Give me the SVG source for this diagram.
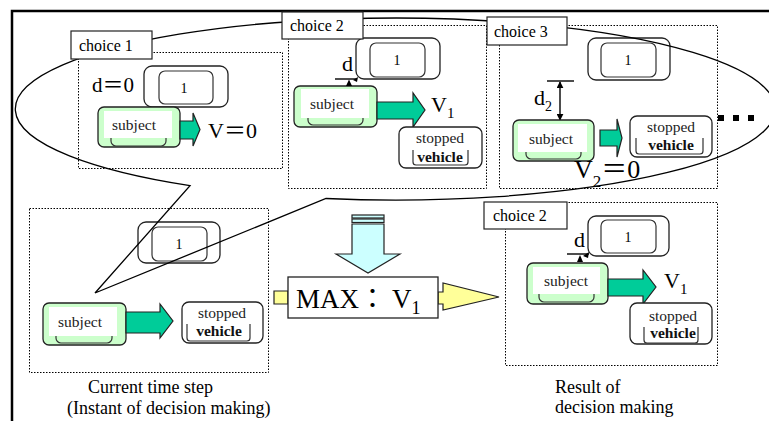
<svg xmlns="http://www.w3.org/2000/svg" width="769" height="421" viewBox="0 0 769 421">
<style>
.frame{fill:none;stroke:#000;stroke-width:2.5}
.dot{fill:none;stroke:#000;stroke-width:1;stroke-dasharray:1.5 1.5}
.callout{fill:none;stroke:#000;stroke-width:1.3}
.lbl{fill:#fff;stroke:#222;stroke-width:1.2}
.t{font-family:"Liberation Serif","Noto Sans CJK JP",serif;fill:#000}
.lt{font-size:16px}
.so{fill:#ccffcc;stroke:#222;stroke-width:1.3}
.si{fill:none;stroke:#333;stroke-width:1.2}
.sw{fill:#fff}
.o{fill:#fff;stroke:#222;stroke-width:1.3}
.sub{font-size:15.5px;fill:#222;text-anchor:middle}
.veh{font-size:15.5px;font-weight:bold;fill:#111;text-anchor:middle}
.num{font-size:14px;text-anchor:middle}
.ga{fill:#00cc99;stroke:#222;stroke-width:1.2}
.ya{fill:#ffff99;stroke:#222;stroke-width:1.2}
.ba{fill:#ccffff;stroke:#222;stroke-width:1.2}
.dl{stroke:#000;stroke-width:1.4;fill:none}
.blk{fill:#000}
.cap{font-size:18px}
</style>
<defs>
<marker id="ah" viewBox="0 0 10 10" refX="9" refY="5" markerWidth="7" markerHeight="7" orient="auto-start-reverse" markerUnits="userSpaceOnUse">
<path d="M0,0 L10,5 L0,10 Z" fill="#000"/>
</marker>
</defs>

<!-- frame -->
<path class="frame" d="M12,421 V11 H769"/>

<!-- dotted scene boxes -->
<g id="boxes">
<rect class="dot" x="78.5" y="52.5" width="204" height="116"/>
<rect class="dot" x="288.5" y="25.5" width="198" height="163"/>
<rect class="dot" x="499.5" y="25.5" width="218" height="163"/>
<rect class="dot" x="29.5" y="208.5" width="239" height="164"/>
<rect class="dot" x="505.5" y="202.5" width="212" height="163"/>
</g>

<!-- choice 1 contents -->
<g id="c1-d"><text class="t" x="92" y="92" font-size="21">d＝0</text></g>
<g id="c1-obstacle" transform="translate(144,66)">
<rect class="o" x="0" y="0" width="84" height="41" rx="8"/>
<rect class="si" x="15" y="5" width="54" height="33" rx="6"/>
<text class="t num" x="40" y="27">1</text>
</g>
<g id="c1-subject" transform="translate(98,107)">
<rect class="so" x="0" y="0" width="82" height="40" rx="6"/>
<rect class="si" x="13" y="6" width="55" height="33" rx="5"/>
<rect class="sw" x="6" y="4" width="68" height="27"/>
<text class="t sub" x="36" y="23">subject</text>
</g>
<g id="c1-arrow"><path class="ga" d="M180,121 H193 V113 L200,129.5 L193,146 V139 H180 Z"/></g>
<g id="c1-v"><text class="t" x="208" y="138" font-size="22">V＝0</text></g>

<!-- choice 2 contents -->
<g id="c2-obstacle" transform="translate(356,38)">
<rect class="o" x="0" y="0" width="84" height="41" rx="8"/>
<rect class="si" x="14" y="5" width="55" height="34" rx="6"/>
<text class="t num" x="41" y="27">1</text>
</g>
<g id="c2-subject" transform="translate(294,86)">
<rect class="so" x="0" y="0" width="83" height="41" rx="6"/>
<rect class="si" x="14" y="6" width="55" height="33" rx="5"/>
<rect class="sw" x="7" y="3" width="68" height="29"/>
<text class="t sub" x="38" y="23">subject</text>
</g>
<g id="c2-d">
<text class="t" x="342" y="71" font-size="22">d</text>
<line class="dl" x1="335" y1="79" x2="357" y2="79"/>
<path class="blk" d="M346,86 L349,79.5 L352,86 Z"/>
<path class="blk" d="M353,80 L358,77 L357,82 Z"/>
</g>
<g id="c2-arrow"><path class="ga" d="M377,102 H413 V93 L425,110 L413,127 V119 H377 Z"/></g>
<g id="c2-v"><text class="t" x="431" y="112" font-size="22">V<tspan font-size="15" dy="6">1</tspan></text></g>
<g id="c2-stopped" transform="translate(399,127)">
<rect class="o" x="0" y="0" width="83" height="41" rx="7"/>
<text class="t sub" x="41" y="16">stopped</text>
<path class="si" d="M14,23 V35 Q14,38 17,38 H66 Q69,38 69,35 V23"/>
<text class="t veh" x="41" y="35">vehicle</text>
</g>

<!-- choice 3 contents -->
<g id="c3-obstacle" transform="translate(588,38)">
<rect class="o" x="0" y="0" width="82" height="42" rx="8"/>
<rect class="si" x="13" y="5" width="55" height="34" rx="6"/>
<text class="t num" x="40" y="27">1</text>
</g>
<g id="c3-d">
<line class="dl" x1="547" y1="81" x2="574" y2="81"/>
<line class="dl" x1="560" y1="82" x2="560" y2="120" marker-start="url(#ah)" marker-end="url(#ah)"/>
<text class="t" x="534" y="105" font-size="22">d<tspan font-size="14" dy="6">2</tspan></text>
</g>
<g id="c3-subject" transform="translate(513,120)">
<rect class="so" x="0" y="0" width="81" height="41" rx="6"/>
<rect class="si" x="13" y="6" width="55" height="33" rx="5"/>
<rect class="sw" x="5" y="4" width="69" height="28"/>
<text class="t sub" x="38" y="24">subject</text>
</g>
<g id="c3-arrow"><path class="ga" d="M600,130 H617 V119 L622,138 L617,157 V146 H600 Z"/></g>
<g id="c3-stopped" transform="translate(630,116)">
<rect class="o" x="0" y="0" width="82" height="41" rx="7"/>
<text class="t sub" x="41" y="16">stopped</text>
<path class="si" d="M6,22 V35 Q6,38 9,38 H70 Q73,38 73,35 V22"/>
<text class="t veh" x="41" y="34">vehicle</text>
</g>
<g id="c3-v"><text class="t" x="574" y="178" font-size="26">V<tspan font-size="17" dy="9">2</tspan><tspan dy="-9">＝0</tspan></text></g>
<g id="c3-more">
<rect class="blk" x="718" y="115" width="6" height="6"/>
<rect class="blk" x="733" y="115" width="6" height="6"/>
<rect class="blk" x="748" y="115" width="6" height="6"/>
</g>

<!-- current time step contents -->
<g id="cur-obstacle" transform="translate(138,222)">
<rect class="o" x="0" y="0" width="82" height="41" rx="8"/>
<rect class="si" x="14" y="5" width="55" height="34" rx="6"/>
<text class="t num" x="41" y="27">1</text>
</g>
<g id="cur-subject" transform="translate(43,303)">
<rect class="so" x="0" y="0" width="83" height="42" rx="6"/>
<rect class="si" x="13" y="6" width="56" height="34" rx="5"/>
<rect class="sw" x="6" y="4" width="68" height="29"/>
<text class="t sub" x="37" y="24">subject</text>
</g>
<g id="cur-arrow"><path class="ga" d="M126,312 H160 V304 L173,321 L160,338 V333 H126 Z"/></g>
<g id="cur-stopped" transform="translate(182,302)">
<rect class="o" x="0" y="0" width="81" height="41" rx="7"/>
<text class="t sub" x="40" y="16">stopped</text>
<path class="si" d="M5,22 V36 Q5,39 8,39 H65 Q68,39 68,36 V22"/>
<text class="t veh" x="37" y="34">vehicle</text>
</g>

<!-- result contents -->
<g id="res-obstacle" transform="translate(588,216)">
<rect class="o" x="0" y="0" width="81" height="40" rx="8"/>
<rect class="si" x="13" y="4" width="55" height="33" rx="6"/>
<text class="t num" x="40" y="26">1</text>
</g>
<g id="res-subject" transform="translate(527,263)">
<rect class="so" x="0" y="0" width="81" height="41" rx="6"/>
<rect class="si" x="12" y="6" width="55" height="33" rx="5"/>
<rect class="sw" x="6" y="4" width="67" height="27"/>
<text class="t sub" x="39" y="23">subject</text>
</g>
<g id="res-d">
<text class="t" x="574" y="247" font-size="22">d</text>
<line class="dl" x1="567" y1="254" x2="589" y2="254"/>
<path class="blk" d="M577,262 L580,255 L583,262 Z"/>
<path class="blk" d="M583,256 L589,252 L588,258 Z"/>
</g>
<g id="res-arrow"><path class="ga" d="M608,279 H643 V270 L656,287 L643,304 V296 H608 Z"/></g>
<g id="res-v"><text class="t" x="664" y="288" font-size="22">V<tspan font-size="15" dy="6">1</tspan></text></g>
<g id="res-stopped" transform="translate(630,303)">
<rect class="o" x="0" y="0" width="82" height="41" rx="7"/>
<text class="t sub" x="43" y="18">stopped</text>
<path class="si" d="M14,24 V37 Q14,40 17,40 H65 Q68,40 68,37 V24"/>
<text class="t veh" x="43" y="35">vehicle</text>
</g>

<!-- MAX decision -->
<g id="max-node">
<path class="ya" d="M274,291 H288 V304 H274 Z"/>
<path class="ya" d="M438,292 H443 V283 L499,297 L443,310 V304 H438 Z"/>
<rect x="288" y="277" width="150" height="41" fill="#fff" stroke="#222" stroke-width="1.3"/>
<text class="t" x="296" y="308" font-size="27">MAX：<tspan x="392">V</tspan><tspan font-size="18" dy="6">1</tspan></text>
</g>
<g id="down-arrow">
<rect class="ba" x="352" y="215" width="32" height="3"/>
<rect class="ba" x="352" y="219" width="32" height="3.5"/>
<path class="ba" d="M352,224 H384 V254 H400 L368,273 L336,254 H352 Z"/>
</g>

<!-- callout bubble (connector) -->
<g id="connectors">
<path class="callout" d="M190,185.6 A380,91 0 1,1 326,198.5 L95,293 Z"/>
</g>

<!-- choice labels -->
<g id="lbl-choice1"><rect class="lbl" x="71" y="31" width="81" height="28"/><text class="t lt" x="79" y="51">choice 1</text></g>
<g id="lbl-choice2"><rect class="lbl" x="282" y="12" width="81" height="27"/><text class="t lt" x="290" y="31">choice 2</text></g>
<g id="lbl-choice3"><rect class="lbl" x="487" y="17" width="80" height="28"/><text class="t lt" x="494" y="37">choice 3</text></g>
<g id="lbl-result"><rect class="lbl" x="484" y="202" width="83" height="27"/><text class="t lt" x="493" y="221">choice 2</text></g>

<!-- captions -->
<g id="cap-current">
<text class="t cap" x="88" y="393">Current time step</text>
<text class="t cap" x="67" y="414">(Instant of decision making)</text>
</g>
<g id="cap-result">
<text class="t cap" x="555" y="393">Result of</text>
<text class="t cap" x="555" y="413">decision making</text>
</g>
</svg>
